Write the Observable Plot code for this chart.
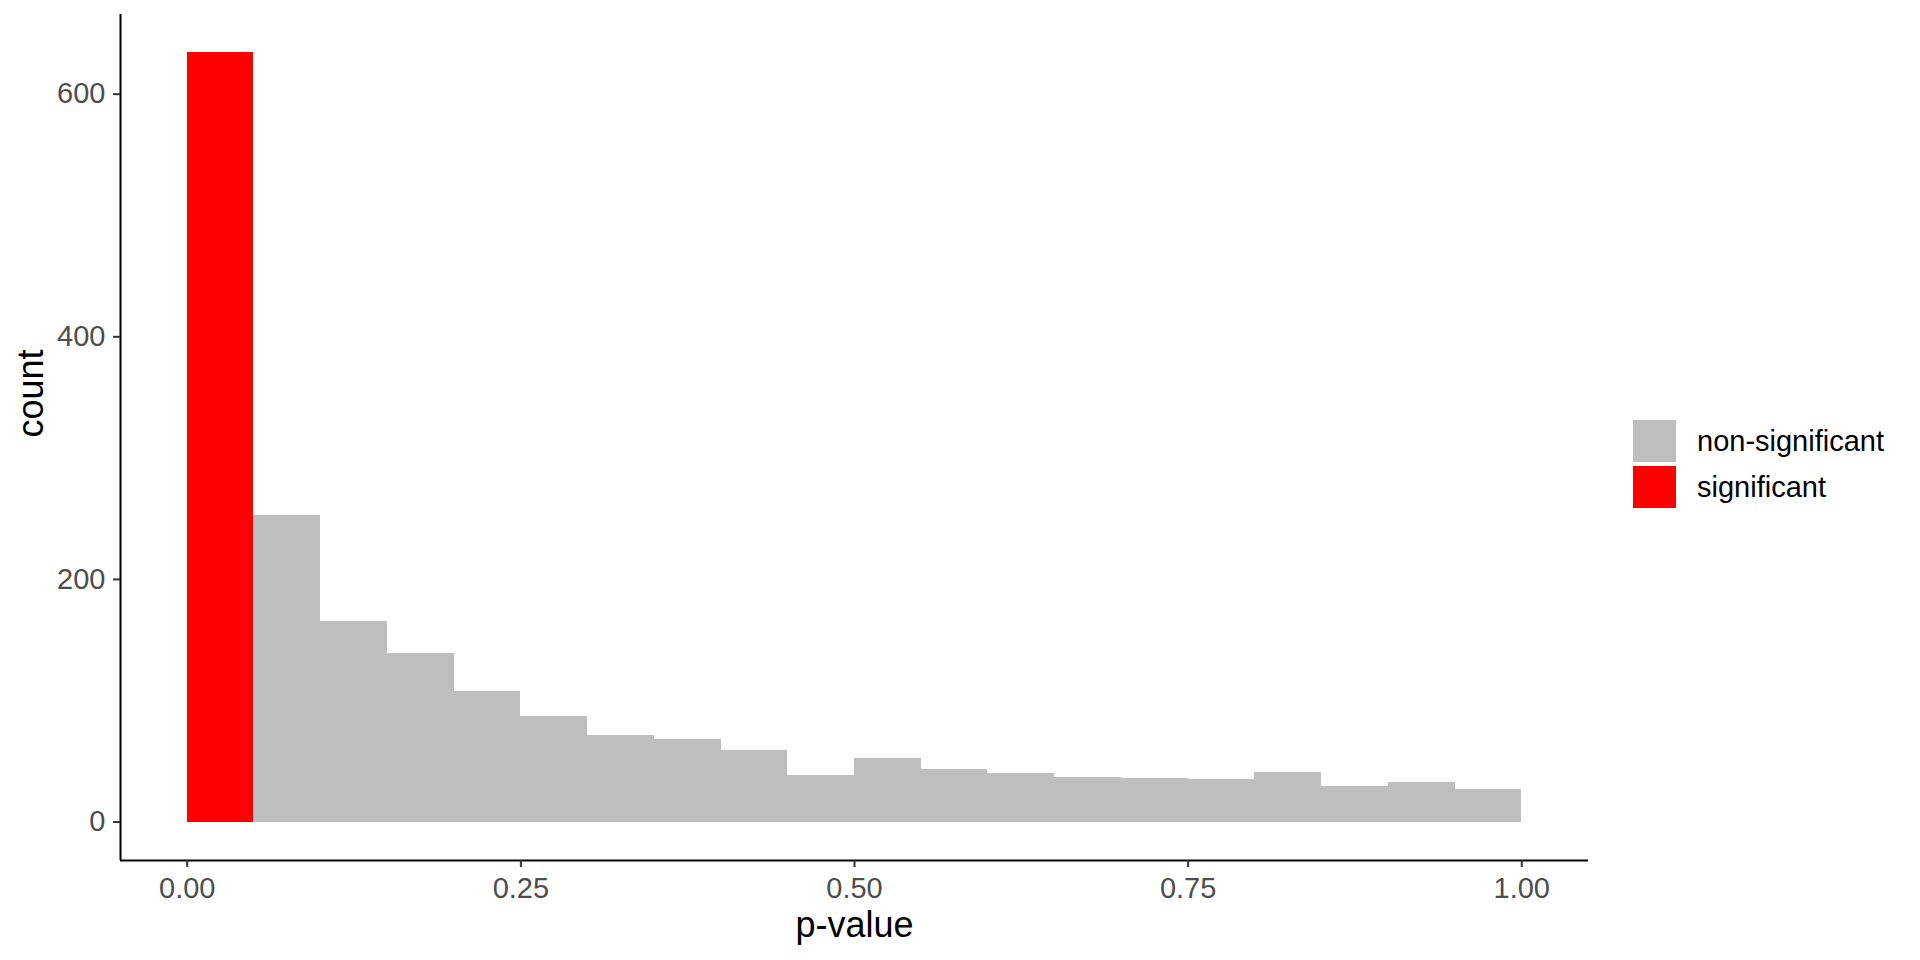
<!DOCTYPE html>
<html>
<head>
<meta charset="utf-8">
<script src="https://cdn.jsdelivr.net/npm/d3@7"></script>
<script src="https://cdn.jsdelivr.net/npm/@observablehq/plot@0.6"></script>
<style>
  html, body { margin: 0; padding: 0; background: #fff; }
  #wrap { position: relative; width: 1920px; height: 960px; font-family: "Liberation Sans", Arial, sans-serif; }
  #legend { position: absolute; left: 1633px; top: 420px; }
  .item { display: flex; align-items: center; height: 42px; margin-bottom: 4px; }
  .sw { width: 43px; height: 42px; }
  .lab { margin-left: 21px; font-size: 29px; color: #000; }
</style>
</head>
<body>
<div id="wrap"></div>
<script>
// Data
const binStarts = [0.00, 0.05, 0.10, 0.15, 0.20, 0.25, 0.30, 0.35, 0.40, 0.45, 0.50, 0.55, 0.60, 0.65, 0.70, 0.75, 0.80, 0.85, 0.90, 0.95];
const binEnds   = [0.05, 0.10, 0.15, 0.20, 0.25, 0.30, 0.35, 0.40, 0.45, 0.50, 0.55, 0.60, 0.65, 0.70, 0.75, 0.80, 0.85, 0.90, 0.95, 1.00];
const counts    = [634, 253, 165, 139, 108, 87, 71, 68, 59, 38, 52, 43, 40, 37, 36, 35, 41, 29, 33, 27];
const groups    = ["significant", "non-significant", "non-significant", "non-significant", "non-significant",
                   "non-significant", "non-significant", "non-significant", "non-significant", "non-significant",
                   "non-significant", "non-significant", "non-significant", "non-significant", "non-significant",
                   "non-significant", "non-significant", "non-significant", "non-significant", "non-significant"];
const xTicks = [0, 0.25, 0.5, 0.75, 1];
const yTicks = [0, 200, 400, 600];
const legendLabels = ["non-significant", "significant"];
const legendColors = ["#BEBEBE", "#FF0000"];
const xTitle = "p-value";
const yTitle = "count";

const rows = binStarts.map((x1, i) => ({x1, x2: binEnds[i], count: counts[i], group: groups[i]}));

// ggplot-style 5% expansion
const xMin = d3.min(binStarts), xMax = d3.max(binEnds);
const xPad = (xMax - xMin) * 0.05;
const yMax = d3.max(counts);
const yPad = yMax * 0.05;
const xDomain = [xMin - xPad, xMax + xPad];
const yDomain = [0 - yPad, yMax + yPad];

const font = "Liberation Sans, Arial, sans-serif";

const chart = Plot.plot({
  width: 1920,
  height: 960,
  marginLeft: 120,
  marginRight: 332,
  marginTop: 14,
  marginBottom: 100,
  style: {fontFamily: font, background: "#fff"},
  x: {domain: xDomain},
  y: {domain: yDomain},
  color: {domain: legendLabels, range: legendColors},
  marks: [
    Plot.rectY(rows, {x1: "x1", x2: "x2", y1: 0, y2: "count", fill: "group", shapeRendering: "crispEdges"}),
    Plot.ruleY([yDomain[0]], {stroke: "#000", strokeWidth: 2}),
    Plot.ruleX([xDomain[0]], {stroke: "#000", strokeWidth: 2}),
    Plot.axisX(xTicks, {anchor: "bottom", tickSize: 7, tickPadding: 10, strokeWidth: 2, stroke: "#333",
      fill: "#4D4D4D", fontSize: 29, tickFormat: d3.format(".2f"), label: null}),
    Plot.axisY(yTicks, {anchor: "left", tickSize: 7, tickPadding: 8, strokeWidth: 2, stroke: "#333",
      fill: "#4D4D4D", fontSize: 29, tickFormat: d => String(d), label: null}),
    Plot.text([xTitle], {frameAnchor: "bottom", text: d => d, lineAnchor: "top", dy: 51, fontSize: 36, fill: "#000"}),
    Plot.text([yTitle], {frameAnchor: "left", text: d => d, rotate: -90, lineAnchor: "middle", dx: -89, fontSize: 36, fill: "#000"})
  ]
});

const wrap = document.getElementById("wrap");
wrap.appendChild(chart);

const legend = document.createElement("div");
legend.id = "legend";
legendLabels.forEach((lab, i) => {
  const item = document.createElement("div");
  item.className = "item";
  const sw = document.createElement("div");
  sw.className = "sw";
  sw.style.background = legendColors[i];
  const t = document.createElement("span");
  t.className = "lab";
  t.textContent = lab;
  item.appendChild(sw);
  item.appendChild(t);
  legend.appendChild(item);
});
wrap.appendChild(legend);
</script>
</body>
</html>
